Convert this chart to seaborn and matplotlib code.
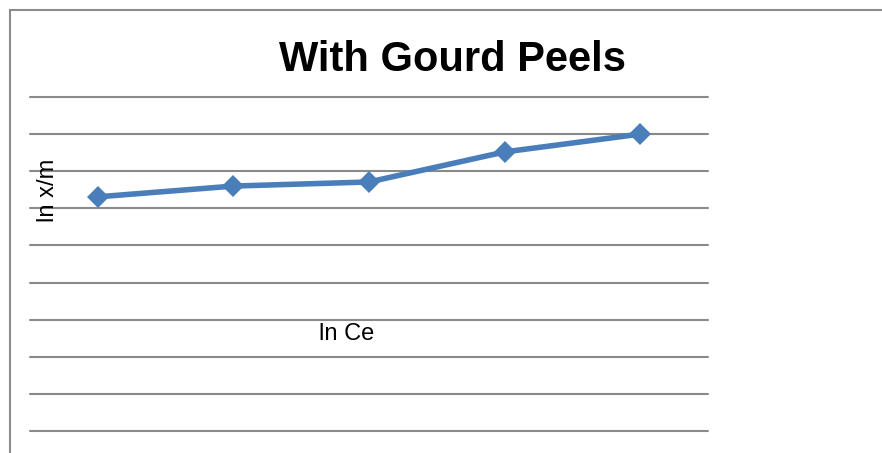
import matplotlib
matplotlib.use('Agg')
import matplotlib.pyplot as plt
import seaborn as sns
import pandas as pd
from matplotlib.patches import Rectangle

# values (axis has no tick labels, units are grid steps)
points = [1, 2, 3, 4, 5]
ln_xm = [6.31, 6.60, 6.71, 7.52, 8.00]
grid_levels = list(range(0, 10))

title_text = 'With Gourd Peels'
xlabel_text = 'ln Ce'
ylabel_text = 'ln x/m'

sns.set_style('white')
plt.rcParams['font.family'] = ['Liberation Sans Narrow', 'Liberation Sans', 'DejaVu Sans']

df = pd.DataFrame({'point': points, 'value': ln_xm})

fig = plt.figure(figsize=(8.82, 4.53), dpi=100)
ax = fig.add_axes([30 / 882, 1 - 431 / 453, 678 / 882, 334 / 453])

# chart area border (runs off the right and bottom of the picture)
fig.patches.append(Rectangle((10 / 882, -0.1), 1.2, 1 - 10 / 453 + 0.1,
                             transform=fig.transFigure, fill=False,
                             edgecolor='#8c8c8c', linewidth=1.5))

for g in grid_levels:
    ax.axhline(g, color='#8a8a8a', linewidth=1.5, zorder=1, clip_on=False)

sns.lineplot(data=df, x='point', y='value', ax=ax, color='#4a7ebb',
             linewidth=4, marker='D', markersize=11, markeredgewidth=0, zorder=3)

ax.set_xlim(0.5, 5.5)
ax.set_ylim(0, 9)
ax.set_xticks([])
ax.set_yticks([])
ax.set_xlabel('')
ax.set_ylabel('')
for s in ax.spines.values():
    s.set_visible(False)

ax.text(0.467, 0.29, xlabel_text, transform=ax.transAxes, ha='center', va='center',
        fontsize=17, color='black')
ax.text(0.0265, 0.72, ylabel_text, transform=ax.transAxes, ha='center', va='center',
        rotation=90, fontsize=17, color='black')
fig.text(452 / 882, 1 - 60 / 453, title_text, ha='center', va='center',
         fontsize=30, fontweight='bold', color='black')

fig.savefig('out.png', dpi=100)
